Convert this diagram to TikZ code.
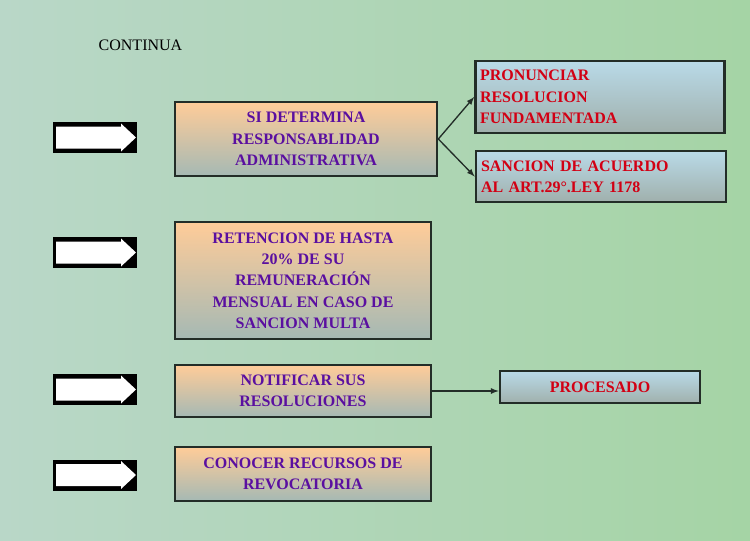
\documentclass[tikz,border=0pt]{standalone}
\usepackage{fontspec}
\setmainfont{Liberation Serif}
\definecolor{bgA}{RGB}{185,215,200}
\definecolor{bgB}{RGB}{165,212,165}
\definecolor{peach}{RGB}{255,204,153}
\definecolor{grayb}{RGB}{165,185,180}
\definecolor{lblue}{RGB}{185,218,232}
\definecolor{rgray}{RGB}{160,176,172}
\definecolor{purp}{RGB}{90,15,160}
\definecolor{redt}{RGB}{210,0,20}
\definecolor{edge}{RGB}{35,45,40}
\tikzset{
 lbox/.style={draw=edge,line width=2pt,top color=peach,bottom color=grayb,text=purp,font=\bfseries\fontsize{12}{16}\selectfont,align=center,inner sep=0pt},
 rbox/.style={draw=edge,line width=2pt,top color=lblue,bottom color=rgray,text=redt,font=\bfseries\fontsize{12}{16}\selectfont,align=left,inner sep=0pt},
 conn/.style={draw=edge,line width=1pt,-latex}
}
\begin{document}
\begin{tikzpicture}[x=0.75pt,y=-0.75pt]
\useasboundingbox (0,0) rectangle (750,540);
\shade[left color=bgA,right color=bgB] (0,0) rectangle (750,540);
\node[anchor=west,font=\fontsize{12}{14}\selectfont] (cont) at (94,45) {CONTINUA};
% left boxes
\node[lbox,minimum width=262*0.75pt,minimum height=74*0.75pt] (si) at (306,139) {SI DETERMINA\\RESPONSABLIDAD\\ADMINISTRATIVA};
\node[lbox,minimum width=256*0.75pt,minimum height=117*0.75pt] (ret) at (303,280.5) {RETENCION DE HASTA\\20\% DE SU\\REMUNERACIÓN\\MENSUAL EN CASO DE\\SANCION MULTA};
\node[lbox,minimum width=256*0.75pt,minimum height=52*0.75pt] (not) at (303,391) {NOTIFICAR SUS\\RESOLUCIONES};
\node[lbox,minimum width=256*0.75pt,minimum height=54*0.75pt] (con) at (303,474) {CONOCER  RECURSOS DE\\REVOCATORIA};
% right boxes
\node[rbox,minimum width=249*0.75pt,minimum height=72*0.75pt,text width=240*0.75pt] (pro) at (600,97) {PRONUNCIAR\\RESOLUCION\\FUNDAMENTADA};
\node[rbox,minimum width=250*0.75pt,minimum height=51*0.75pt,text width=240*0.75pt] (san) at (601,176.5) {SANCION DE ACUERDO\\AL ART.29°.LEY 1178};
\node[rbox,align=center,minimum width=200*0.75pt,minimum height=32*0.75pt] (prc) at (600,387) {PROCESADO};
% connectors
\draw[conn] (si.east) -- (pro.west);
\draw[conn] (si.east) -- (san.west);
\draw[conn] (not.east) -- (not.east -| prc.west);
% block arrows
\foreach \n/\y in {a1/137.5,a2/252.5,a3/389.5,a4/475}{
 \fill[black] (53,\y-15.5) rectangle (137,\y+15.5);
 \fill[white] (56,\y-11) -- (121,\y-11) -- (121,\y-14) -- (136,\y) -- (121,\y+14) -- (121,\y+11) -- (56,\y+11) -- cycle;
 \coordinate (\n) at (95,\y);
}
\end{tikzpicture}
\end{document}
